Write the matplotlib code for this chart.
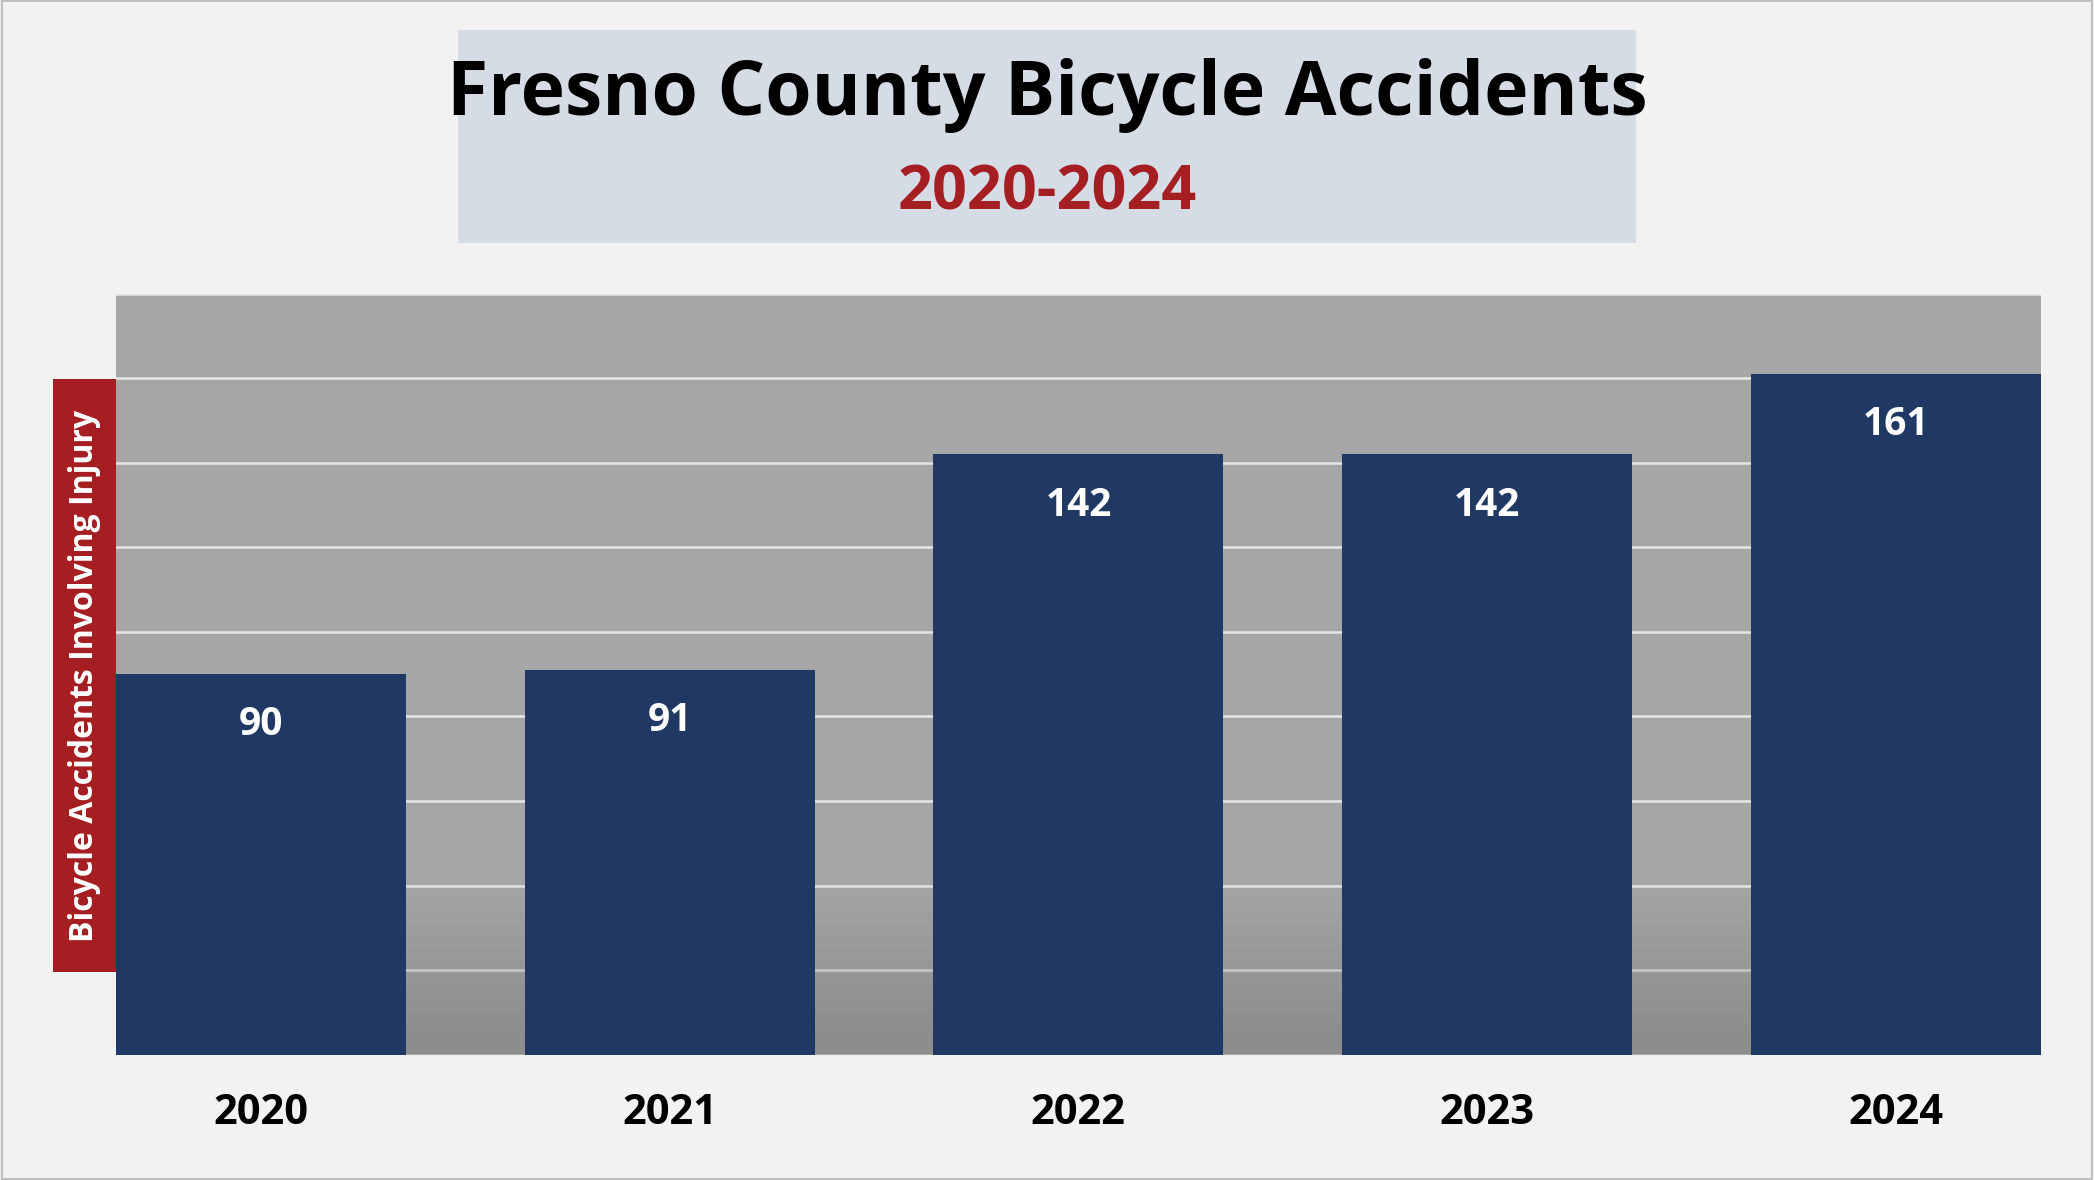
import matplotlib
matplotlib.use("Agg")
import matplotlib.pyplot as plt
from matplotlib.patches import Rectangle

years = ["2020", "2021", "2022", "2023", "2024"]
values = [90, 91, 142, 142, 161]
title = "Fresno County Bicycle Accidents"
subtitle = "2020-2024"
ylabel = "Bicycle Accidents Involving Injury"

FONT = "Open Sans"
fig = plt.figure(figsize=(20.94, 11.8), dpi=100, facecolor="#F2F2F2")
fig.patches.append(Rectangle((0.001, 0.001), 0.998, 0.998, transform=fig.transFigure,
                             fill=False, edgecolor="#BFBFBF", lw=1.5))

ax = fig.add_axes([0.0555, 0.1063, 0.919, 0.6447])
ax.set_facecolor("#A6A6A6")
x = list(range(len(years)))
ax.set_ylim(0, 180)
ax.set_yticks(range(0, 181, 20))
ax.yaxis.grid(True, color="#E6E6E6", lw=1.8)
ax.set_axisbelow(True)
for i in range(12):
    ax.axhspan(0, 40 - i * 3, color="#707070", alpha=0.04, lw=0)
ax.bar(x, values, width=0.71, color="#203864", zorder=3)
ax.set_xlim(-0.355, len(years) - 0.645)
for xi, v in zip(x, values):
    ax.text(xi, v - 12, str(v), ha="center", va="center", color="white",
            fontsize=28, fontweight="bold", family=FONT, zorder=4)
ax.set_xticks(x)
ax.set_xticklabels(years, fontsize=30, fontweight="bold", family=FONT)
ax.tick_params(axis="x", length=0, pad=28)
ax.tick_params(axis="y", length=0, labelleft=False)
for s in ax.spines.values():
    s.set_visible(False)

tb = fig.add_axes([0.2188, 0.794, 0.5625, 0.181])
tb.set_facecolor("#D6DCE5")
tb.set_xticks([]); tb.set_yticks([])
for s in tb.spines.values():
    s.set_visible(False)
tb.text(0.5, 0.69, title, ha="center", va="center", fontsize=54, fontweight="bold",
        family=FONT, color="black", transform=tb.transAxes)
tb.text(0.5, 0.23, subtitle, ha="center", va="center", fontsize=44, fontweight="bold",
        family=FONT, color="#A51E22", transform=tb.transAxes)

lb = fig.add_axes([0.0255, 0.176, 0.030, 0.503])
lb.set_facecolor("#A51E22")
lb.set_xticks([]); lb.set_yticks([])
for s in lb.spines.values():
    s.set_visible(False)
lb.text(0.5, 0.5, ylabel, rotation=90, ha="center", va="center", color="white",
        fontsize=23, fontweight="bold", family=FONT, transform=lb.transAxes)

fig.savefig("out.png", dpi=100, facecolor=fig.get_facecolor())
